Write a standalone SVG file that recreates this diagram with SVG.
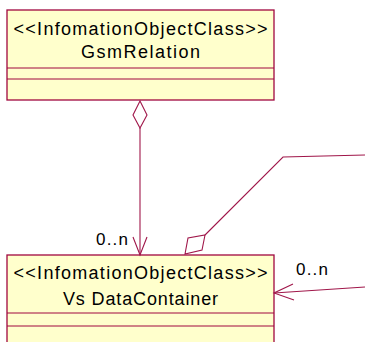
<svg xmlns="http://www.w3.org/2000/svg" width="365" height="342" viewBox="0 0 365 342">
<style>
.box{fill:#ffffcc;stroke:#a0073f;stroke-width:1.3}
.sep{stroke:#a0073f;stroke-width:1}
.t{font-family:"Liberation Sans",Arial,sans-serif;font-size:18px;fill:#000;text-anchor:middle}
.lbl{font-family:"Liberation Sans",Arial,sans-serif;font-size:17px;fill:#000}
.c{fill:none;stroke:#a0174a;stroke-width:1.1}
</style>
<rect width="365" height="342" fill="#fff"/>
<g id="GsmRelation">
<rect class="box" x="7" y="10" width="267" height="90"/>
<line class="sep" x1="7" y1="68" x2="274" y2="68"/>
<line class="sep" x1="7" y1="79" x2="274" y2="79"/>
<text class="t" x="140.5" y="34.5" textLength="254" lengthAdjust="spacing">&lt;&lt;InfomationObjectClass&gt;&gt;</text>
<text class="t" x="140.5" y="58" textLength="119" lengthAdjust="spacing">GsmRelation</text>
</g>
<g id="VsDataContainer">
<rect class="box" x="7" y="255" width="267" height="100"/>
<line class="sep" x1="7" y1="313" x2="274" y2="313"/>
<line class="sep" x1="7" y1="326" x2="274" y2="326"/>
<text class="t" x="140.5" y="278.5" textLength="254" lengthAdjust="spacing">&lt;&lt;InfomationObjectClass&gt;&gt;</text>
<text class="t" x="140.5" y="304.5" textLength="155" lengthAdjust="spacing">Vs DataContainer</text>
</g>
<g id="connectors">
<polygon class="c" points="140,101 133,115 140,128 147,115"/>
<line class="c" x1="140" y1="128" x2="140" y2="255"/>
<polyline class="c" points="133,237 140,255 147,237"/>
<text class="lbl" x="96" y="245" textLength="32" lengthAdjust="spacing">0..n</text>
<polygon class="c" points="185,254 188,238 205,235 202,250"/>
<polyline class="c" points="205,235 283,157 365,155"/>
<line class="c" x1="274" y1="293" x2="365" y2="287"/>
<polyline class="c" points="293,284 274,293 294,300"/>
<text class="lbl" x="296" y="275" textLength="32" lengthAdjust="spacing">0..n</text>
</g>
</svg>
